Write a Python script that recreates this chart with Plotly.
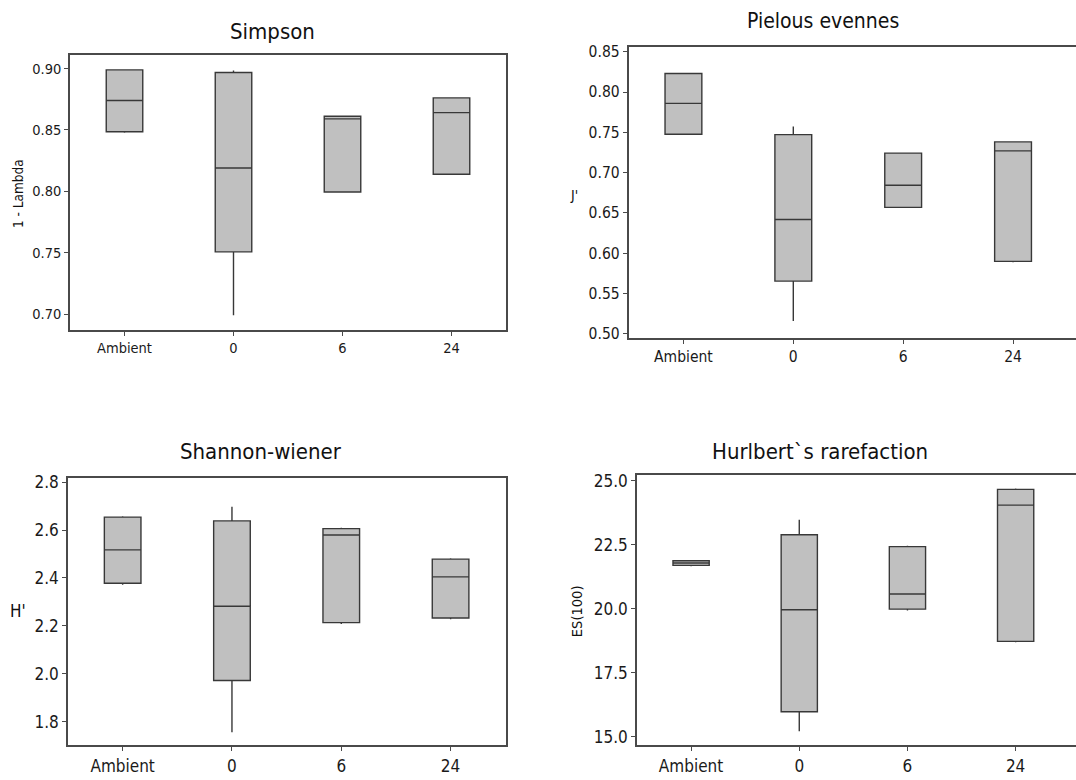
import plotly.graph_objects as go

# Treatment groups shared by every panel
groups = ["Ambient", "0", "6", "24"]

# Simpson (1 - Lambda)
simpson_low = [0.8477, 0.699, 0.799, 0.8135]
simpson_q1 = [0.8485, 0.7507, 0.7995, 0.8139]
simpson_med = [0.874, 0.819, 0.859, 0.8641]
simpson_q3 = [0.8989, 0.8968, 0.8611, 0.8761]
simpson_high = [0.8995, 0.8984, 0.8614, 0.8764]

# Pielou's evenness (J')
pielou_low = [0.7468, 0.5159, 0.6563, 0.5888]
pielou_q1 = [0.7475, 0.5653, 0.6568, 0.5898]
pielou_med = [0.7859, 0.6417, 0.6842, 0.727]
pielou_q3 = [0.823, 0.7471, 0.7242, 0.7381]
pielou_high = [0.8235, 0.7573, 0.7247, 0.7386]

# Shannon-Wiener (H')
shannon_low = [2.372, 1.756, 2.208, 2.228]
shannon_q1 = [2.378, 1.9717, 2.2135, 2.2327]
shannon_med = [2.517, 2.282, 2.579, 2.4044]
shannon_q3 = [2.654, 2.638, 2.606, 2.4786]
shannon_high = [2.657, 2.697, 2.609, 2.482]

# Hurlbert's rarefaction ES(100)
hurlbert_low = [21.66, 15.219, 19.93, 18.69]
hurlbert_q1 = [21.697, 15.977, 19.987, 18.728]
hurlbert_med = [21.787, 19.961, 20.578, 24.049]
hurlbert_q3 = [21.877, 22.892, 22.429, 24.666]
hurlbert_high = [21.9, 23.483, 22.46, 24.7]

W, H = 1076, 780
FONT = "DejaVu Sans Condensed, Liberation Sans, DejaVu Sans, sans-serif"
FRAME = "#4a4a4a"


def px(x):
    return x / W


def py(y):
    return 1 - y / H


panels = [
    dict(low=simpson_low, q1=simpson_q1, med=simpson_med, q3=simpson_q3, high=simpson_high,
         xdom=[px(70), px(506)], ydom=[py(329.3), py(50.7)],
         xrange=[-0.5, 3.5], yrange=[0.687, 0.911],
         ytickvals=[0.70, 0.75, 0.80, 0.85, 0.90], fmt=".2f", tick=14.5, mirror_y=True),
    dict(low=pielou_low, q1=pielou_q1, med=pielou_med, q3=pielou_q3, high=pielou_high,
         xdom=[px(628.5), 1.0], ydom=[py(337.3), py(42.7)],
         xrange=[-0.5, 3.573], yrange=[0.4947, 0.8557],
         ytickvals=[0.50, 0.55, 0.60, 0.65, 0.70, 0.75, 0.80, 0.85], fmt=".2f", tick=15.5, mirror_y=False),
    dict(low=shannon_low, q1=shannon_q1, med=shannon_med, q3=shannon_q3, high=shannon_high,
         xdom=[px(68), px(506)], ydom=[py(750), py(478.7)],
         xrange=[-0.5, 3.507], yrange=[1.701, 2.819],
         ytickvals=[1.8, 2.0, 2.2, 2.4, 2.6, 2.8], fmt=".1f", tick=17, mirror_y=True),
    dict(low=hurlbert_low, q1=hurlbert_q1, med=hurlbert_med, q3=hurlbert_q3, high=hurlbert_high,
         xdom=[px(637), 1.0], ydom=[py(750), py(476)],
         xrange=[-0.5, 3.558], yrange=[14.666, 25.23],
         ytickvals=[15.0, 17.5, 20.0, 22.5, 25.0], fmt=".1f", tick=17, mirror_y=False),
]

fig = go.Figure()
layout = {}
for i, p in enumerate(panels, start=1):
    sfx = "" if i == 1 else str(i)
    fig.add_trace(go.Box(
        x=groups, q1=p["q1"], median=p["med"], q3=p["q3"],
        lowerfence=p["low"], upperfence=p["high"],
        xaxis="x" + sfx, yaxis="y" + sfx,
        width=0.335, whiskerwidth=0, boxpoints=False,
        fillcolor="#c0c0c0", line=dict(color="#383838", width=1.4),
        hoverinfo="skip", showlegend=False,
    ))
    layout["xaxis" + sfx] = dict(
        domain=p["xdom"], anchor="y" + sfx, type="category",
        categoryorder="array", categoryarray=groups, range=p["xrange"],
        showline=True, linecolor=FRAME, linewidth=1.5, mirror=True,
        ticks="outside", ticklen=4, tickcolor=FRAME, tickwidth=1,
        showgrid=False, zeroline=False,
        tickfont=dict(family=FONT, size=p["tick"], color="#1a1a1a"),
    )
    layout["yaxis" + sfx] = dict(
        domain=p["ydom"], anchor="x" + sfx, range=p["yrange"],
        tickvals=p["ytickvals"], tickformat=p["fmt"],
        showline=True, linecolor=FRAME, linewidth=1.5, mirror=p["mirror_y"],
        ticks="outside", ticklen=4, tickcolor=FRAME, tickwidth=1,
        showgrid=False, zeroline=False,
        tickfont=dict(family=FONT, size=p["tick"], color="#1a1a1a"),
    )

titles = [
    ("Simpson", 272, 27, 22),
    ("Pielous evennes", 823, 16, 21),
    ("Shannon-wiener", 261, 452, 22),
    ("Hurlbert`s rarefaction", 820, 452, 22),
]
annotations = []
for text, x, y, size in titles:
    annotations.append(dict(text=text, x=px(x), y=py(y), xref="paper", yref="paper",
                            xanchor="center", yanchor="middle", showarrow=False,
                            font=dict(family=FONT, size=size, color="#111111")))

axis_titles = [
    ("1 - Lambda", 17.5, 191, 13.5, -90),
    ("J'", 574, 192, 14, 0),
    ("H'", 17.5, 614, 17, 0),
    ("ES(100)", 577, 614, 14.5, -90),
]
for text, x, y, size, ang in axis_titles:
    annotations.append(dict(text=text, x=px(x), y=py(y), xref="paper", yref="paper",
                            xanchor="center", yanchor="middle", showarrow=False,
                            textangle=ang,
                            font=dict(family=FONT, size=size, color="#111111")))

fig.update_layout(
    width=W, height=H,
    margin=dict(l=0, r=0, t=0, b=0),
    paper_bgcolor="white", plot_bgcolor="white",
    showlegend=False,
    annotations=annotations,
    **layout,
)

fig.write_html("out.html")
